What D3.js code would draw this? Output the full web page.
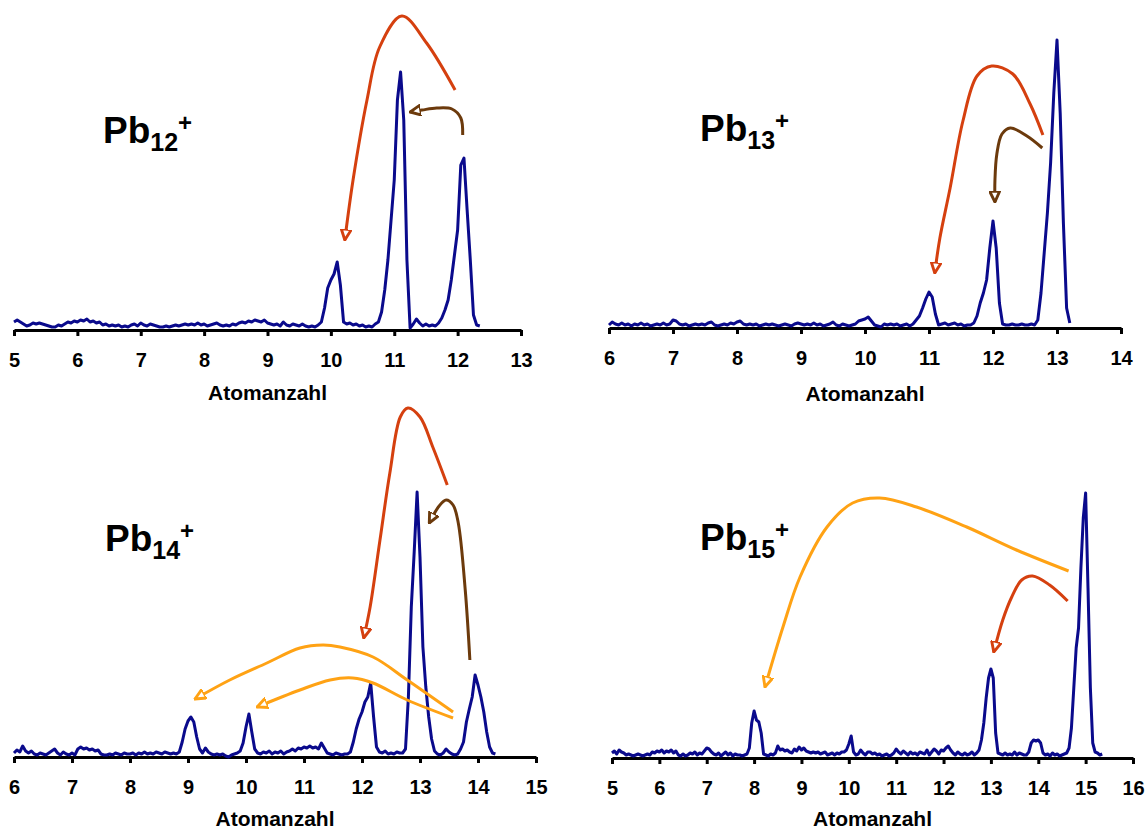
<!DOCTYPE html>
<html>
<head>
<meta charset="utf-8">
<script src="https://cdn.jsdelivr.net/npm/d3@7"></script>
<style>
  body { margin: 0; background: #fff; }
  svg { display: block; }
  text { font-family: "Liberation Sans", Arial, sans-serif; font-weight: bold; }
</style>
</head>
<body>
<div id="chart"></div>
<script>
(function () {
"use strict";

////////////////////////////////////////////////////////////////////////////////
//
// Fragmentation spectra of Pb12+ ... Pb15+ (counts sampled every 0.05 atoms)
//
////////////////////////////////////////////////////////////////////////////////

var step = 0.05;

// Pb12+, starts at 5.00
var pb12Start = 5.0;
var pb12Counts = [
  8,10,8,6,4,5,7,6,7,6,5,4,3,3,5,4,6,8,7,9,            // 5
  8,10,9,11,8,9,7,8,5,6,4,5,4,5,3,4,3,5,6,4,           // 6
  7,5,4,6,5,4,3,3,4,3,4,5,4,5,6,5,6,5,7,5,             // 7
  6,4,5,6,7,5,4,5,4,6,5,7,8,7,9,8,10,9,8,10,           // 8
  7,6,5,6,4,8,5,4,6,5,4,6,4,3,4,3,5,8,22,42,           // 9
  50,56,68,45,8,6,7,5,6,4,5,3,4,3,6,8,18,40,70,110,    // 10
  150,230,258,210,70,2,6,11,7,4,6,4,5,4,7,12,20,30,50,75, // 11
  100,165,172,120,70,15,5,4                            // 12
];
var pb12Ticks = [5, 6, 7, 8, 9, 10, 11, 12, 13];

// Pb13+, starts at 6.00
var pb13Start = 6.0;
var pb13Counts = [
  3,6,4,3,5,3,4,2,4,3,5,3,4,2,3,4,3,5,3,4,             // 6
  8,7,4,3,4,2,3,4,3,4,3,5,6,3,2,3,4,3,5,4,             // 7
  6,7,4,3,4,3,4,2,3,4,3,4,3,2,3,4,3,2,4,5,             // 8
  4,3,4,3,5,3,4,2,3,4,6,3,2,4,3,2,3,4,7,8,             // 9
  9,11,7,3,2,1,4,3,4,3,4,2,3,4,2,4,8,12,20,29,         // 10
  36,31,14,3,4,5,3,4,5,3,4,2,3,3,5,12,25,35,48,80,     // 11
  107,80,25,4,3,3,4,3,3,4,3,3,4,3,8,35,75,115,165,235, // 12
  288,215,105,20,5                                     // 13
];
var pb13Ticks = [6, 7, 8, 9, 10, 11, 12, 13, 14];

// Pb14+, starts at 6.00
var pb14Start = 6.0;
var pb14Counts = [
  4,7,5,11,6,4,6,3,2,4,3,2,4,6,8,4,2,5,3,2,            // 6
  4,2,8,10,8,9,7,8,6,7,3,2,2,3,2,4,3,2,4,3,            // 7
  3,4,2,4,3,5,3,4,3,5,4,3,5,4,3,4,3,5,15,28,           // 8
  36,40,35,20,8,4,9,5,3,2,3,2,3,1,0,2,3,4,6,14,        // 9
  30,43,25,8,4,3,5,4,6,3,5,4,6,3,5,6,8,6,9,8,          // 10
  10,9,11,9,10,8,14,9,4,3,2,4,3,2,3,3,5,15,28,38,      // 11
  45,55,60,74,40,10,5,4,6,3,4,3,5,4,4,8,60,150,205,265, // 12
  200,110,70,40,18,6,3,2,4,8,5,3,2,3,8,15,35,48,60,82, // 13
  72,60,45,25,10,4,3                                   // 14
];
var pb14Ticks = [6, 7, 8, 9, 10, 11, 12, 13, 14, 15];

// Pb15+, starts at 5.00
var pb15Start = 5.0;
var pb15Counts = [
  5,7,4,8,6,5,3,4,3,2,3,4,3,2,3,4,3,6,5,7,             // 5
  6,8,5,7,6,8,5,7,3,2,4,2,3,5,4,6,3,5,4,7,             // 6
  10,9,6,4,3,5,2,4,6,3,5,2,4,3,3,2,3,4,10,35,          // 7
  47,38,36,25,4,3,2,4,3,5,12,8,9,7,8,6,5,9,7,11,       // 8
  8,10,7,6,5,6,5,6,4,5,6,3,4,5,3,5,4,6,6,8,            // 9
  14,22,6,3,4,8,5,3,6,6,4,5,3,4,2,3,4,2,3,5,           // 10
  9,6,4,7,5,3,6,4,5,3,6,5,4,8,3,6,9,7,4,8,             // 11
  7,10,12,8,5,3,6,4,3,5,3,4,6,3,5,8,18,35,60,80,       // 12
  89,80,25,5,4,3,5,3,4,3,6,3,5,4,3,3,6,15,18,17,       // 13
  18,15,5,3,4,2,5,3,4,2,3,4,5,10,30,70,110,130,190,240, // 14
  265,170,70,15,6,5,3,4                                // 15
];
var pb15Ticks = [5, 6, 7, 8, 9, 10, 11, 12, 13, 14, 15, 16];

// Fragmentation arrows, as [atoms, counts] along each curve (end = arrow tip)
var pb12LossTwo = [[11.96,240],[11.51,287],[11.12,314],[10.77,283],[10.57,230],[10.35,150],[10.22,90]];
var pb12LossOne = [[12.08,195],[12.05,212],[11.91,221],[11.67,222],[11.44,220],[11.25,218]];

var pb13LossTwo = [[12.78,193],[12.58,224],[12.31,254],[11.98,262],[11.75,252],[11.53,207],[11.33,140],[11.17,90],[11.09,55]];
var pb13LossOne = [[12.77,180],[12.53,192],[12.27,200],[12.14,194],[12.06,174],[12.03,147],[12.03,126]];

var pb14LossTwo = [[13.47,272],[13.22,310],[13.00,340],[12.79,349],[12.66,340],[12.48,284],[12.31,217],[12.14,150],[12.03,119]];
var pb14LossOne = [[13.86,97],[13.78,167],[13.66,234],[13.57,252],[13.45,257],[13.33,251],[13.16,234]];
var pb14LossFive = [[13.57,45],[12.78,77],[12.19,100],[11.62,110],[11.33,112],[10.93,109],[10.36,94],[9.72,77],[9.12,58]];
var pb14LossFour = [[13.57,39],[12.78,57],[12.19,74],[11.84,79],[11.45,77],[10.93,67],[10.19,50]];

var pb15LossSeven = [[14.64,187],[13.54,208],[12.49,231],[11.43,251],[10.65,260],[10.08,255],[9.54,231],[8.97,181],[8.61,131],[8.23,71]];
var pb15LossTwo = [[14.62,157],[14.24,173],[13.88,182],[13.65,178],[13.44,161],[13.25,138],[13.06,106]];

////////////////////////////////////////////////////////////////////////////////

var RED = "#d5400f", BROWN = "#6c3a0c", ORANGE = "#ffa214", NAVY = "#0a0a8c";

var panels = [
  { sub: "12", start: pb12Start, counts: pb12Counts, ticks: pb12Ticks,
    arrows: [[pb12LossTwo, "red"], [pb12LossOne, "brown"]],
    left: 14, right: 521, axisY: 330, labelX: 103, labelY: 143, titleDy: 70 },
  { sub: "13", start: pb13Start, counts: pb13Counts, ticks: pb13Ticks,
    arrows: [[pb13LossTwo, "red"], [pb13LossOne, "brown"]],
    left: 609, right: 1121, axisY: 328, labelX: 700, labelY: 141, titleDy: 73 },
  { sub: "14", start: pb14Start, counts: pb14Counts, ticks: pb14Ticks,
    arrows: [[pb14LossTwo, "red"], [pb14LossOne, "brown"], [pb14LossFive, "orange"], [pb14LossFour, "orange"]],
    left: 14, right: 536, axisY: 757, labelX: 105, labelY: 551, titleDy: 69 },
  { sub: "15", start: pb15Start, counts: pb15Counts, ticks: pb15Ticks,
    arrows: [[pb15LossSeven, "orange"], [pb15LossTwo, "red"]],
    left: 612, right: 1133, axisY: 758, labelX: 700, labelY: 550, titleDy: 68 }
];

var colors = { red: RED, brown: BROWN, orange: ORANGE };

var fullWidth = 1146, fullHeight = 832;

var svg = d3.select("#chart").append("svg")
  .attr("width", fullWidth)
  .attr("height", fullHeight)
  .attr("viewBox", "0 0 " + fullWidth + " " + fullHeight);

var defs = svg.append("defs");

// Open arrow heads, one per colour
Object.keys(colors).forEach(function(k) {
  defs.append("marker")
      .attr("id", "head-" + k)
      .attr("viewBox", "0 -5 10 10")
      .attr("refX", 9)
      .attr("refY", 0)
      .attr("markerUnits", "userSpaceOnUse")
      .attr("markerWidth", 12)
      .attr("markerHeight", 12)
      .attr("orient", "auto")
    .append("path")
      .attr("d", "M0,-4.2L9,0L0,4.2Z")
      .style("fill", "#fff")
      .style("stroke", colors[k])
      .style("stroke-width", 2.4)
      .style("stroke-linejoin", "miter");
});

panels.forEach(function(p) {
  var xScale = d3.scaleLinear()
    .domain([p.ticks[0], p.ticks[p.ticks.length - 1]])
    .range([p.left, p.right]);

  var yScale = d3.scaleLinear()
    .domain([0, 300])
    .range([p.axisY, p.axisY - 300]);

  var g = svg.append("g");

  // x axis
  var axis = d3.axisBottom(xScale)
    .tickValues(p.ticks)
    .tickFormat(d3.format("d"))
    .tickSize(6)
    .tickSizeOuter(0)
    .tickPadding(17);

  var axisG = g.append("g")
    .attr("transform", "translate(0," + p.axisY + ")")
    .call(axis);

  axisG.select(".domain")
    .style("stroke", "#000")
    .style("stroke-width", 3);
  axisG.selectAll(".tick line")
    .style("stroke", "#000")
    .style("stroke-width", 3);
  axisG.selectAll(".tick text")
    .style("fill", "#000")
    .style("font-size", "20px")
    .style("font-weight", "bold")
    .style("font-family", "'Liberation Sans', Arial, sans-serif");

  g.append("text")
    .attr("x", (p.left + p.right) / 2)
    .attr("y", p.axisY + p.titleDy)
    .style("text-anchor", "middle")
    .style("font-size", "21px")
    .text("Atomanzahl");

  // spectrum
  var pts = p.counts.map(function(c, i) {
    return { x: p.start + i * step, y: c };
  });

  g.append("path")
    .datum(pts)
    .attr("d", d3.line()
      .x(function(d) { return xScale(d.x); })
      .y(function(d) { return yScale(d.y); }))
    .style("fill", "none")
    .style("stroke", NAVY)
    .style("stroke-width", 3)
    .style("stroke-linejoin", "round");

  // arrows
  var arrowLine = d3.line()
    .curve(d3.curveCatmullRom.alpha(0.5))
    .x(function(d) { return xScale(d[0]); })
    .y(function(d) { return yScale(d[1]); });

  p.arrows.forEach(function(a) {
    g.append("path")
      .attr("d", arrowLine(a[0]))
      .attr("marker-end", "url(#head-" + a[1] + ")")
      .style("fill", "none")
      .style("stroke", colors[a[1]])
      .style("stroke-width", 3);
  });

  // label
  var label = g.append("text")
    .attr("x", p.labelX)
    .attr("y", p.labelY)
    .style("font-size", "37px");
  label.append("tspan").text("Pb");
  label.append("tspan")
    .attr("dy", 8)
    .style("font-size", "25px")
    .text(p.sub);
  label.append("tspan")
    .attr("dy", -20)
    .style("font-size", "24px")
    .text("+");
});

})();
</script>
</body>
</html>
